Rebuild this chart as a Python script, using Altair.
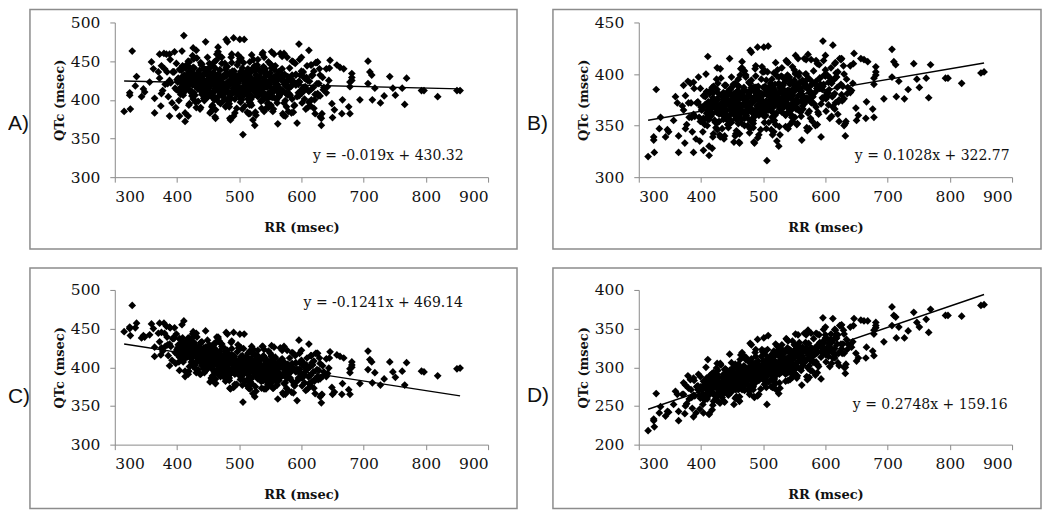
import altair as alt
import pandas as pd

# ---------------- data ----------------
# RR interval (msec) -- the same patients appear in all four panels
rr = [
    372, 375, 377, 379, 381, 384, 386, 389, 392, 395,
    397, 399, 401, 403, 404, 406, 408, 410, 411, 413,
    414, 416, 417, 419, 420, 422, 423, 425, 426, 428,
    429, 430, 432, 433, 434, 436, 437, 438, 440, 441,
    442, 444, 445, 446, 448, 449, 450, 452, 453, 454,
    455, 457, 458, 459, 460, 462, 463, 464, 465, 467,
    468, 469, 470, 472, 473, 474, 475, 477, 478, 479,
    480, 481, 483, 484, 485, 486, 488, 489, 490, 491,
    492, 494, 495, 496, 497, 498, 500, 501, 502, 503,
    504, 505, 507, 508, 509, 510, 512, 513, 514, 515,
    516, 518, 519, 520, 521, 523, 524, 525, 527, 528,
    529, 530, 532, 533, 534, 536, 537, 538, 540, 541,
    542, 544, 545, 547, 548, 549, 551, 552, 554, 555,
    557, 558, 560, 561, 563, 564, 566, 568, 569, 571,
    573, 575, 577, 579, 581, 583, 585, 587, 589, 591,
    593, 595, 597, 599, 601, 603, 605, 607, 609, 611,
    613, 615, 617, 619, 621, 623, 626, 629, 632, 636,
    418, 427, 435, 443, 451, 456, 461, 466, 471, 476,
    482, 487, 493, 499, 506, 511, 517, 522, 526, 531,
    535, 539, 543, 546, 550, 553, 556, 562, 567, 574,
    405, 415, 424, 431, 439, 447, 458, 463, 470, 481,
    486, 495, 503, 509, 516, 525, 533, 543, 552, 565,
    578, 588, 598, 606, 616, 626, 640, 645, 650, 412,
    438, 457, 473, 489, 497, 505, 520, 537, 556, 584,
    408, 411, 415, 418, 421, 424, 427, 430, 433, 436,
    439, 442, 445, 448, 451, 454, 457, 460, 463, 466,
    469, 472, 475, 478, 481, 484, 487, 490, 493, 496,
    499, 502, 505, 508, 511, 514, 517, 520, 523, 526,
    529, 532, 535, 538, 541, 544, 547, 550, 553, 556,
    559, 562, 565, 568, 571, 574, 577, 580, 584, 588,
    592, 596, 600, 604, 608, 612, 616, 620, 625, 630,
    425, 434, 443, 452, 461, 470, 479, 488, 497, 506,
    515, 524, 533, 542, 551, 560, 569, 578, 587, 596,
    402, 413, 426, 437, 449, 460, 472, 484, 496, 508,
    518, 527, 536, 546, 557, 566, 576, 590, 603, 618,
    380, 390, 399, 409, 419, 444, 468, 492, 517, 545,
    400, 404, 407, 410, 414, 417, 420, 423, 427, 431,
    434, 437, 440, 443, 446, 449, 452, 455, 458, 461,
    464, 467, 470, 473, 476, 479, 482, 485, 488, 491,
    494, 497, 500, 503, 506, 509, 512, 515, 518, 521,
    524, 527, 530, 533, 536, 539, 542, 545, 548, 551,
    554, 557, 560, 563, 566, 569, 572, 576, 580, 585,
    590, 595, 600, 605, 610, 615, 620, 627, 634, 642,
    421, 429, 436, 444, 451, 459, 466, 474, 481, 489,
    496, 504, 511, 519, 526, 534, 541, 549, 556, 564,
    412, 426, 441, 454, 469, 483, 498, 512, 527, 541,
    456, 471, 486, 501, 516, 531, 546, 561, 576, 591,
    385, 393, 403, 416, 447, 477, 507, 538, 569, 601,
    402, 406, 409, 412, 416, 419, 422, 426, 429, 432,
    435, 438, 441, 444, 447, 450, 453, 456, 459, 462,
    465, 468, 471, 474, 477, 480, 483, 486, 489, 492,
    495, 498, 501, 504, 507, 510, 513, 516, 519, 522,
    525, 528, 531, 534, 537, 540, 543, 546, 549, 552,
    555, 558, 561, 564, 567, 570, 574, 578, 582, 586,
    591, 597, 602, 607, 612, 617, 622, 628, 635, 644,
    423, 431, 438, 446, 453, 461, 468, 476, 483, 491,
    498, 505, 513, 520, 528, 535, 543, 550, 558, 566,
    410, 424, 439, 452, 467, 481, 496, 510, 525, 539,
    458, 473, 488, 503, 518, 533, 548, 563, 578, 594,
    388, 395, 405, 418, 449, 479, 509, 540, 571, 603,
    # scattered points
    315, 325, 324, 324, 328, 335, 333, 343, 346, 364,
    374, 359, 372, 383, 388, 396, 411, 388, 404, 418,
    413, 446, 426, 431, 461, 462, 485, 486, 479, 481,
    491, 501, 508, 506, 466, 522, 525, 562, 572, 552,
    593, 596, 612, 646, 657, 662, 668, 707, 710, 713,
    707, 681, 681, 681, 678, 678, 742, 769, 747, 751,
    762, 793, 797, 819, 850, 855, 766, 733, 727, 714,
    694, 678, 665, 653, 649, 633, 630, 632, 622, 666,
    676, 718, 640, 625, 356, 348, 362, 370, 364, 375,
    398, 420, 437, 455, 520, 540, 498, 470, 530, 585,
    600, 615, 630, 540, 570, 610, 515, 555,
]

# Panel A QTc (msec)
qtc_a = [
    428, 444, 412, 460, 420, 436, 404, 452, 396, 436,
    415, 447, 423, 399, 439, 407, 463, 415, 431, 383,
    441, 417, 433, 393, 449, 425, 409, 457, 401, 441,
    406, 422, 454, 414, 398, 438, 430, 390, 446, 414,
    431, 399, 439, 423, 407, 455, 415, 447, 383, 423,
    443, 403, 411, 435, 427, 387, 419, 459, 403, 427,
    423, 439, 407, 455, 415, 431, 399, 447, 391, 431,
    411, 443, 419, 395, 435, 403, 459, 411, 427, 379,
    437, 413, 429, 389, 445, 421, 405, 453, 397, 437,
    400, 416, 448, 408, 392, 432, 424, 384, 440, 408,
    428, 396, 436, 420, 404, 452, 412, 444, 380, 420,
    445, 405, 413, 437, 429, 389, 421, 461, 405, 429,
    417, 433, 401, 449, 409, 425, 393, 441, 385, 425,
    412, 444, 420, 396, 436, 404, 460, 412, 428, 380,
    433, 409, 425, 385, 441, 417, 401, 449, 393, 433,
    404, 420, 452, 412, 396, 436, 428, 388, 444, 412,
    424, 392, 432, 416, 400, 448, 408, 440, 376, 416,
    450, 409, 417, 440, 431, 391, 423, 462, 406, 430,
    418, 434, 401, 449, 409, 425, 393, 441, 384, 424,
    411, 443, 419, 395, 435, 403, 459, 411, 427, 379,
    440, 415, 430, 390, 445, 420, 404, 451, 395, 434,
    407, 422, 454, 413, 397, 437, 429, 389, 445, 413,
    424, 392, 432, 417, 400, 449, 409, 441, 377, 422,
    448, 406, 413, 437, 428, 388, 420, 459, 403, 427,
    429, 413, 445, 421, 437, 405, 453, 397, 429, 413,
    417, 433, 401, 425, 441, 409, 393, 449, 417, 433,
    431, 415, 407, 439, 423, 399, 455, 415, 383, 423,
    425, 409, 441, 417, 433, 401, 449, 393, 425, 409,
    414, 430, 398, 422, 438, 406, 390, 446, 414, 430,
    431, 415, 407, 439, 423, 399, 455, 415, 383, 423,
    421, 405, 437, 413, 429, 397, 445, 389, 421, 405,
    419, 435, 402, 425, 441, 408, 392, 448, 415, 431,
    433, 417, 408, 440, 424, 400, 456, 416, 384, 424,
    428, 411, 442, 417, 432, 400, 447, 391, 422, 406,
    416, 432, 399, 423, 439, 407, 391, 447, 416, 432,
    440, 422, 413, 444, 428, 402, 456, 415, 382, 422,
    426, 414, 438, 406, 430, 418, 442, 410, 434, 422,
    415, 431, 407, 423, 439, 403, 427, 419, 435, 411,
    430, 418, 426, 406, 414, 442, 398, 422, 410, 434,
    421, 409, 433, 401, 425, 413, 437, 405, 429, 417,
    412, 428, 404, 420, 436, 400, 424, 416, 432, 408,
    428, 416, 424, 404, 412, 440, 396, 420, 408, 432,
    421, 409, 433, 401, 425, 413, 437, 405, 429, 417,
    434, 421, 428, 408, 415, 443, 398, 422, 410, 433,
    421, 409, 433, 401, 424, 412, 436, 404, 428, 416,
    419, 433, 408, 423, 438, 402, 425, 417, 432, 408,
    431, 418, 426, 405, 413, 440, 396, 420, 408, 432,
    421, 436, 411, 426, 439, 402, 425, 416, 432, 409,
    424, 428, 420, 432, 416, 436, 412, 426, 418, 430,
    419, 431, 411, 425, 417, 421, 435, 407, 427, 413,
    426, 418, 422, 410, 430, 414, 420, 432, 408, 424,
    419, 423, 415, 427, 411, 431, 407, 421, 413, 425,
    416, 428, 408, 422, 414, 418, 432, 404, 424, 410,
    424, 416, 420, 408, 428, 412, 418, 430, 406, 422,
    419, 423, 415, 427, 411, 431, 407, 421, 413, 425,
    430, 421, 425, 412, 431, 415, 420, 432, 408, 423,
    417, 429, 409, 423, 414, 418, 432, 404, 424, 410,
    425, 428, 418, 429, 412, 432, 407, 421, 412, 424,
    427, 418, 422, 409, 429, 412, 418, 430, 406, 422,
    425, 436, 415, 428, 417, 420, 433, 404, 424, 411,
    385, 388, 406, 409, 463, 430, 418, 404, 414, 383,
    392, 449, 459, 459, 459, 462, 483, 379, 379, 379,
    372, 475, 467, 464, 378, 376, 376, 374, 478, 475,
    480, 478, 478, 355, 468, 374, 367, 369, 460, 462,
    370, 472, 464, 451, 445, 442, 440, 450, 436, 432,
    421, 434, 429, 425, 417, 423, 430, 428, 415, 406,
    415, 412, 412, 404, 412, 412, 394, 405, 396, 400,
    400, 382, 382, 387, 395, 382, 378, 367, 382, 400,
    391, 415, 440, 448, 423, 410, 440, 436, 402, 408,
    390, 395, 388, 385, 458, 455, 458, 456, 452, 450,
    455, 445, 432, 385, 382, 390, 382, 388,
]

# Panel B QTc (msec)
qtc_b = [
    365, 379, 351, 393, 358, 372, 344, 386, 337, 372,
    358, 386, 365, 344, 379, 351, 400, 358, 372, 330,
    381, 360, 374, 339, 388, 367, 353, 395, 346, 381,
    354, 368, 396, 361, 347, 382, 375, 340, 389, 361,
    376, 348, 383, 369, 355, 397, 362, 390, 334, 369,
    391, 356, 363, 384, 377, 342, 370, 405, 356, 377,
    371, 385, 357, 399, 364, 378, 350, 392, 343, 378,
    366, 394, 373, 352, 387, 359, 408, 366, 380, 338,
    388, 367, 381, 346, 395, 374, 360, 402, 353, 388,
    360, 374, 402, 367, 353, 388, 381, 346, 395, 367,
    383, 355, 390, 376, 362, 404, 369, 397, 341, 376,
    398, 363, 370, 391, 384, 349, 377, 412, 363, 384,
    379, 393, 365, 407, 372, 386, 358, 400, 351, 386,
    373, 401, 380, 359, 394, 366, 415, 373, 387, 345,
    396, 375, 389, 354, 403, 382, 368, 410, 361, 396,
    371, 385, 413, 378, 364, 399, 392, 357, 406, 378,
    394, 366, 401, 387, 373, 415, 380, 408, 352, 387,
    387, 353, 361, 383, 376, 342, 370, 406, 358, 379,
    373, 387, 360, 402, 368, 383, 355, 398, 349, 385,
    371, 399, 379, 358, 394, 366, 415, 374, 388, 347,
    379, 359, 374, 339, 389, 369, 356, 399, 350, 387,
    359, 374, 403, 368, 355, 391, 385, 351, 401, 374,
    390, 363, 399, 385, 372, 415, 382, 410, 355, 365,
    389, 356, 365, 387, 381, 347, 377, 413, 366, 390,
    370, 356, 384, 362, 376, 348, 391, 341, 370, 356,
    366, 380, 352, 374, 388, 360, 345, 395, 366, 380,
    383, 369, 363, 391, 377, 355, 405, 369, 341, 377,
    380, 366, 394, 372, 386, 358, 401, 351, 380, 366,
    375, 389, 361, 383, 397, 369, 354, 404, 375, 389,
    392, 378, 372, 400, 386, 364, 414, 378, 350, 386,
    390, 376, 404, 382, 396, 368, 411, 361, 390, 376,
    363, 378, 351, 374, 388, 361, 347, 398, 370, 385,
    386, 373, 368, 397, 384, 363, 414, 379, 351, 388,
    368, 356, 385, 364, 379, 352, 397, 348, 378, 365,
    372, 387, 360, 383, 398, 371, 357, 409, 381, 397,
    372, 359, 354, 383, 370, 351, 403, 370, 344, 383,
    368, 357, 378, 350, 371, 361, 382, 354, 375, 364,
    364, 378, 357, 371, 385, 353, 374, 367, 381, 360,
    381, 370, 377, 360, 367, 391, 353, 374, 363, 384,
    377, 366, 387, 359, 380, 370, 391, 363, 384, 373,
    373, 387, 366, 380, 394, 362, 383, 376, 390, 369,
    390, 379, 386, 369, 376, 400, 362, 383, 372, 393,
    388, 377, 398, 370, 391, 381, 402, 374, 395, 384,
    375, 365, 373, 357, 364, 389, 352, 374, 364, 385,
    376, 366, 388, 360, 382, 373, 395, 368, 389, 379,
    360, 376, 356, 372, 387, 357, 379, 374, 389, 370,
    379, 370, 378, 363, 371, 397, 360, 383, 373, 396,
    358, 372, 353, 368, 385, 356, 380, 376, 394, 376,
    366, 370, 362, 373, 359, 377, 355, 368, 361, 371,
    367, 378, 360, 373, 365, 369, 381, 357, 374, 362,
    377, 370, 374, 363, 381, 367, 372, 383, 361, 376,
    375, 379, 371, 382, 368, 386, 364, 377, 370, 380,
    376, 387, 369, 382, 374, 378, 390, 366, 383, 371,
    387, 380, 384, 373, 391, 377, 382, 393, 371, 386,
    386, 390, 382, 393, 379, 397, 375, 388, 381, 391,
    372, 365, 370, 360, 379, 365, 371, 383, 362, 378,
    372, 384, 367, 381, 373, 378, 391, 368, 385, 374,
    365, 371, 364, 377, 364, 384, 363, 378, 372, 384,
    375, 370, 375, 366, 385, 373, 379, 392, 372, 388,
    361, 373, 356, 370, 365, 372, 387, 367, 387, 378,
    320, 324, 336, 339, 385, 358, 347, 339, 346, 324,
    333, 378, 389, 391, 392, 397, 417, 324, 326, 328,
    321, 415, 406, 405, 334, 333, 334, 333, 423, 421,
    426, 426, 427, 316, 412, 335, 330, 336, 419, 418,
    339, 432, 428, 420, 415, 414, 412, 424, 412, 409,
    397, 407, 402, 399, 390, 396, 410, 409, 395, 387,
    396, 396, 396, 391, 401, 402, 377, 385, 376, 378,
    376, 358, 357, 360, 367, 354, 350, 340, 354, 373,
    366, 393, 408, 414, 355, 344, 372, 369, 340, 347,
    335, 342, 337, 340, 411, 411, 407, 403, 406, 413,
    418, 410, 400, 347, 348, 359, 341, 352,
]

# Panel C QTc (msec)
qtc_c = [
    433, 445, 421, 457, 427, 439, 415, 451, 409, 439,
    419, 443, 425, 407, 437, 413, 455, 419, 431, 395,
    431, 413, 425, 395, 437, 419, 407, 443, 401, 431,
    403, 415, 439, 409, 397, 427, 421, 391, 433, 409,
    417, 393, 423, 411, 399, 435, 405, 429, 381, 411,
    427, 397, 403, 421, 415, 385, 409, 439, 397, 415,
    406, 418, 394, 430, 400, 412, 388, 424, 382, 412,
    398, 422, 404, 386, 416, 392, 434, 398, 410, 374,
    414, 396, 408, 378, 420, 402, 390, 426, 384, 414,
    388, 400, 424, 394, 382, 412, 406, 376, 418, 394,
    405, 381, 411, 399, 387, 423, 393, 417, 369, 399,
    415, 385, 391, 409, 403, 373, 397, 427, 385, 403,
    397, 409, 385, 421, 391, 403, 379, 415, 373, 403,
    389, 413, 395, 377, 407, 383, 425, 389, 401, 365,
    406, 388, 400, 370, 412, 394, 382, 418, 376, 406,
    382, 394, 418, 388, 376, 406, 400, 370, 412, 388,
    400, 376, 406, 394, 382, 418, 388, 412, 364, 394,
    438, 405, 409, 425, 417, 385, 409, 437, 395, 412,
    405, 416, 391, 425, 394, 406, 381, 417, 375, 404,
    391, 415, 396, 378, 408, 384, 426, 390, 401, 365,
    436, 415, 425, 393, 432, 412, 397, 432, 388, 416,
    392, 402, 425, 394, 382, 410, 404, 372, 414, 389,
    401, 377, 406, 394, 381, 418, 388, 412, 365, 422,
    432, 398, 400, 415, 408, 377, 399, 427, 384, 401,
    422, 410, 434, 416, 428, 404, 440, 398, 422, 410,
    407, 419, 395, 413, 425, 401, 389, 431, 407, 419,
    414, 402, 396, 420, 408, 390, 432, 402, 378, 408,
    403, 391, 415, 397, 409, 385, 421, 379, 403, 391,
    394, 406, 382, 400, 412, 388, 376, 418, 394, 406,
    404, 392, 386, 410, 398, 380, 422, 392, 368, 398,
    397, 385, 409, 391, 403, 379, 415, 373, 397, 385,
    415, 424, 398, 413, 424, 397, 384, 424, 399, 409,
    409, 395, 389, 412, 400, 381, 422, 392, 367, 397,
    429, 413, 433, 411, 420, 394, 427, 383, 405, 392,
    396, 407, 382, 399, 411, 387, 373, 415, 391, 403,
    444, 427, 418, 438, 423, 397, 434, 399, 372, 400,
    423, 413, 431, 407, 425, 417, 435, 411, 429, 419,
    408, 420, 402, 414, 426, 398, 416, 410, 422, 404,
    413, 403, 409, 395, 401, 421, 389, 407, 397, 415,
    402, 392, 410, 386, 404, 396, 414, 390, 408, 398,
    393, 405, 387, 399, 411, 383, 401, 395, 407, 389,
    403, 393, 399, 385, 391, 411, 379, 397, 387, 405,
    396, 386, 404, 380, 398, 390, 408, 384, 402, 392,
    427, 415, 419, 403, 407, 425, 391, 408, 396, 413,
    404, 393, 411, 385, 403, 394, 411, 386, 404, 393,
    418, 426, 403, 412, 421, 390, 406, 398, 408, 389,
    417, 405, 408, 392, 396, 414, 380, 397, 386, 405,
    429, 437, 415, 422, 426, 391, 404, 395, 404, 386,
    421, 424, 418, 427, 415, 430, 412, 423, 416, 426,
    409, 419, 403, 414, 408, 411, 422, 400, 416, 405,
    410, 403, 407, 397, 413, 400, 405, 414, 396, 408,
    401, 404, 398, 407, 395, 410, 392, 403, 396, 406,
    395, 405, 389, 400, 394, 397, 408, 386, 402, 391,
    400, 393, 397, 387, 403, 390, 395, 404, 386, 398,
    394, 397, 391, 400, 388, 403, 385, 396, 389, 399,
    423, 415, 416, 404, 419, 404, 407, 415, 395, 406,
    400, 409, 392, 402, 395, 397, 407, 385, 400, 389,
    423, 422, 411, 416, 401, 413, 393, 402, 393, 402,
    414, 404, 405, 393, 407, 393, 397, 405, 386, 397,
    430, 437, 416, 423, 408, 405, 411, 386, 400, 388,
    446, 441, 450, 452, 480, 457, 451, 438, 441, 414,
    416, 456, 457, 453, 452, 451, 460, 402, 396, 391,
    388, 447, 446, 444, 380, 379, 373, 372, 445, 443,
    445, 443, 443, 355, 439, 366, 362, 359, 427, 428,
    357, 435, 430, 420, 416, 414, 412, 421, 410, 407,
    397, 407, 403, 400, 393, 398, 407, 406, 394, 387,
    395, 395, 394, 389, 398, 399, 377, 385, 377, 380,
    379, 365, 365, 368, 374, 365, 362, 354, 366, 379,
    371, 393, 411, 418, 442, 439, 450, 444, 426, 425,
    405, 401, 391, 386, 427, 423, 429, 431, 422, 419,
    422, 415, 405, 372, 367, 372, 373, 373,
]

# Panel D QTc (msec)
qtc_d = [
    265, 277, 253, 289, 259, 271, 247, 283, 241, 271,
    264, 288, 270, 252, 282, 258, 300, 264, 276, 240,
    287, 269, 281, 251, 293, 275, 263, 299, 257, 287,
    267, 279, 303, 273, 261, 291, 285, 255, 297, 273,
    288, 264, 294, 282, 270, 306, 276, 300, 252, 282,
    304, 274, 280, 298, 292, 262, 286, 316, 274, 292,
    289, 301, 277, 313, 283, 295, 271, 307, 265, 295,
    287, 311, 293, 275, 305, 281, 323, 287, 299, 263,
    308, 290, 302, 272, 314, 296, 284, 320, 278, 308,
    287, 299, 323, 293, 281, 311, 305, 275, 317, 293,
    309, 285, 315, 303, 291, 327, 297, 321, 273, 303,
    324, 294, 300, 318, 312, 282, 306, 336, 294, 312,
    310, 322, 298, 334, 304, 316, 292, 328, 286, 316,
    308, 332, 314, 296, 326, 302, 344, 308, 320, 284,
    331, 313, 325, 295, 337, 319, 307, 343, 301, 331,
    313, 325, 349, 319, 307, 337, 331, 301, 343, 319,
    336, 312, 342, 330, 318, 354, 324, 348, 300, 330,
    292, 264, 273, 293, 289, 260, 286, 317, 277, 296,
    292, 305, 283, 320, 292, 306, 283, 321, 280, 311,
    300, 325, 308, 291, 322, 299, 342, 308, 321, 287,
    282, 267, 282, 254, 298, 282, 273, 310, 270, 303,
    281, 295, 321, 293, 283, 315, 312, 284, 329, 308,
    324, 303, 335, 326, 316, 355, 329, 354, 308, 272,
    297, 273, 283, 305, 302, 274, 302, 337, 300, 326,
    278, 266, 290, 272, 284, 260, 296, 254, 278, 266,
    280, 292, 268, 286, 298, 274, 262, 304, 280, 292,
    301, 289, 283, 307, 295, 277, 319, 289, 265, 295,
    303, 291, 315, 297, 309, 285, 321, 279, 303, 291,
    305, 317, 293, 311, 323, 299, 287, 329, 305, 317,
    326, 314, 308, 332, 320, 302, 344, 314, 290, 320,
    330, 318, 342, 324, 336, 312, 348, 306, 330, 318,
    273, 287, 266, 286, 301, 279, 270, 314, 293, 307,
    310, 300, 297, 323, 314, 298, 342, 315, 293, 326,
    273, 264, 291, 276, 291, 271, 310, 271, 298, 290,
    298, 313, 291, 312, 327, 306, 296, 342, 322, 338,
    273, 263, 260, 286, 277, 266, 315, 291, 274, 312,
    275, 265, 283, 259, 277, 269, 287, 263, 281, 271,
    278, 290, 272, 284, 296, 268, 286, 280, 292, 274,
    298, 288, 294, 280, 286, 306, 274, 292, 282, 300,
    300, 290, 308, 284, 302, 294, 312, 288, 306, 296,
    303, 315, 297, 309, 321, 293, 311, 305, 317, 299,
    323, 313, 319, 305, 311, 331, 299, 317, 307, 325,
    330, 320, 338, 314, 332, 324, 342, 318, 336, 326,
    283, 275, 283, 271, 279, 301, 271, 291, 283, 303,
    297, 290, 310, 288, 308, 302, 322, 300, 320, 312,
    268, 284, 270, 286, 302, 278, 300, 298, 314, 300,
    292, 287, 297, 287, 297, 321, 293, 315, 309, 332,
    261, 275, 260, 275, 296, 276, 302, 305, 325, 316,
    274, 277, 271, 280, 268, 283, 265, 276, 269, 279,
    280, 290, 274, 285, 279, 282, 293, 271, 287, 276,
    295, 288, 292, 282, 298, 285, 290, 299, 281, 293,
    299, 302, 296, 305, 293, 308, 290, 301, 294, 304,
    305, 315, 299, 310, 304, 307, 318, 296, 312, 301,
    320, 313, 317, 307, 323, 310, 315, 324, 306, 318,
    328, 331, 325, 334, 322, 337, 319, 330, 323, 333,
    280, 276, 281, 274, 292, 281, 288, 299, 283, 297,
    294, 306, 292, 305, 301, 306, 319, 299, 317, 309,
    272, 279, 277, 289, 281, 300, 286, 301, 298, 312,
    290, 287, 295, 289, 309, 301, 310, 323, 309, 325,
    264, 276, 262, 277, 279, 291, 310, 297, 321, 319,
    218, 223, 231, 233, 266, 249, 241, 237, 243, 231,
    240, 269, 280, 284, 286, 291, 310, 236, 241, 245,
    239, 317, 305, 305, 257, 256, 262, 261, 331, 329,
    336, 338, 341, 252, 319, 270, 266, 277, 348, 343,
    285, 364, 363, 363, 361, 360, 360, 378, 367, 365,
    354, 358, 354, 351, 343, 348, 371, 375, 358, 352,
    362, 367, 367, 366, 380, 381, 345, 347, 338, 338,
    333, 315, 312, 312, 318, 304, 300, 292, 302, 326,
    321, 352, 352, 354, 252, 242, 265, 265, 243, 250,
    246, 256, 256, 260, 330, 334, 323, 313, 329, 344,
    352, 349, 343, 283, 288, 305, 274, 289,
]

panel_labels = ["A)", "B)", "C)", "D)"]
equations = [
    "y = -0.019x + 430.32",
    "y = 0.1028x + 322.77",
    "y = -0.1241x + 469.14",
    "y = 0.2748x + 159.16",
]
slopes = [-0.019, 0.1028, -0.1241, 0.2748]
intercepts = [430.32, 322.77, 469.14, 159.16]
y_domains = [[300, 500], [300, 450], [300, 500], [200, 400]]
y_ticks = [
    [300, 350, 400, 450, 500],
    [300, 350, 400, 450],
    [300, 350, 400, 450, 500],
    [200, 250, 300, 350, 400],
]
x_ticks = [300, 400, 500, 600, 700, 800, 900]
series = [qtc_a, qtc_b, qtc_c, qtc_d]

# ---------------- styling / layout ----------------
W, H = 374, 155
SERIF = "DejaVu Serif"
TEXT = "#111111"
AXIS_GRAY = "#8a8a8a"
BOX_GRAY = "#8c8c8c"

# per panel placement of decorations, in pixels relative to the plot area
deco = [
    dict(lx=-107, ly=102, bx=(-85, 403), by=(-13, 227), ex=274, ey=134),
    dict(lx=-112, ly=102, bx=(-86, 403), by=(-13, 227), ex=294, ey=134),
    dict(lx=-107, ly=107, bx=(-85, 403), by=(-22, 219), ex=269, ey=13),
    dict(lx=-112, ly=106, bx=(-86, 403), by=(-22, 219), ex=292, ey=115),
]


def panel(i):
    d = deco[i]
    df = pd.DataFrame({"RR": rr, "QTc": series[i]})
    one = pd.DataFrame({"k": [0]})

    x = alt.X(
        "RR:Q",
        scale=alt.Scale(domain=[300, 900], nice=False, zero=False),
        axis=alt.Axis(
            values=x_ticks, title="RR (msec)", format="d", grid=False,
            domainColor=AXIS_GRAY, tickColor=AXIS_GRAY, tickSize=5,
            labelFont=SERIF, labelFontSize=15.5, labelColor=TEXT, labelPadding=7,
            titleFont=SERIF, titleFontSize=13, titleFontWeight="bold", titleColor=TEXT,
            titleX=W / 2, titleY=50, titleAlign="center", titleBaseline="middle",
        ),
    )
    y = alt.Y(
        "QTc:Q",
        scale=alt.Scale(domain=y_domains[i], nice=False, zero=False),
        axis=alt.Axis(
            values=y_ticks[i], title="QTc (msec)", format="d", grid=False,
            domainColor=AXIS_GRAY, tickColor=AXIS_GRAY, tickSize=5,
            labelFont=SERIF, labelFontSize=15.5, labelColor=TEXT, labelPadding=10,
            titleFont=SERIF, titleFontSize=13, titleFontWeight="bold", titleColor=TEXT,
            titleX=-55, titleY=H / 2, titleAlign="center", titleBaseline="middle",
            titleAngle=270,
        ),
    )

    box = alt.Chart(one).mark_rect(
        fill="white", fillOpacity=0, stroke=BOX_GRAY, strokeWidth=1.5
    ).encode(
        x=alt.value(d["bx"][0]), x2=alt.value(d["bx"][1]),
        y=alt.value(d["by"][0]), y2=alt.value(d["by"][1]),
    )
    pts = alt.Chart(df).mark_point(
        shape="diamond", filled=True, size=60, color="black", opacity=1, strokeWidth=0
    ).encode(x=x, y=y)
    fit = (
        alt.Chart(pd.DataFrame({"RR": [min(rr), max(rr)]}))
        .transform_calculate(QTc=f"{slopes[i]} * datum.RR + {intercepts[i]}")
        .mark_line(color="black", strokeWidth=1.4)
        .encode(x=x, y=y)
    )
    eq = alt.Chart(one).mark_text(
        text=equations[i], font=SERIF, fontSize=14, color=TEXT,
        align="center", baseline="middle",
    ).encode(x=alt.value(d["ex"]), y=alt.value(d["ey"]))
    lab = alt.Chart(one).mark_text(
        text=panel_labels[i], font="Liberation Sans", fontSize=21, color=TEXT,
        align="left", baseline="middle",
    ).encode(x=alt.value(d["lx"]), y=alt.value(d["ly"]))
    return alt.layer(box, pts, fit, eq, lab).properties(width=W, height=H)


chart = (
    alt.concat(
        panel(0), panel(1), panel(2), panel(3),
        columns=2,
        spacing={"row": 113, "column": 151},
        bounds="flush",
    )
    .properties(padding=0, background="white")
    .configure_view(strokeWidth=0)
)

chart.save("out.html", embed_options={"renderer": "svg", "actions": False})
